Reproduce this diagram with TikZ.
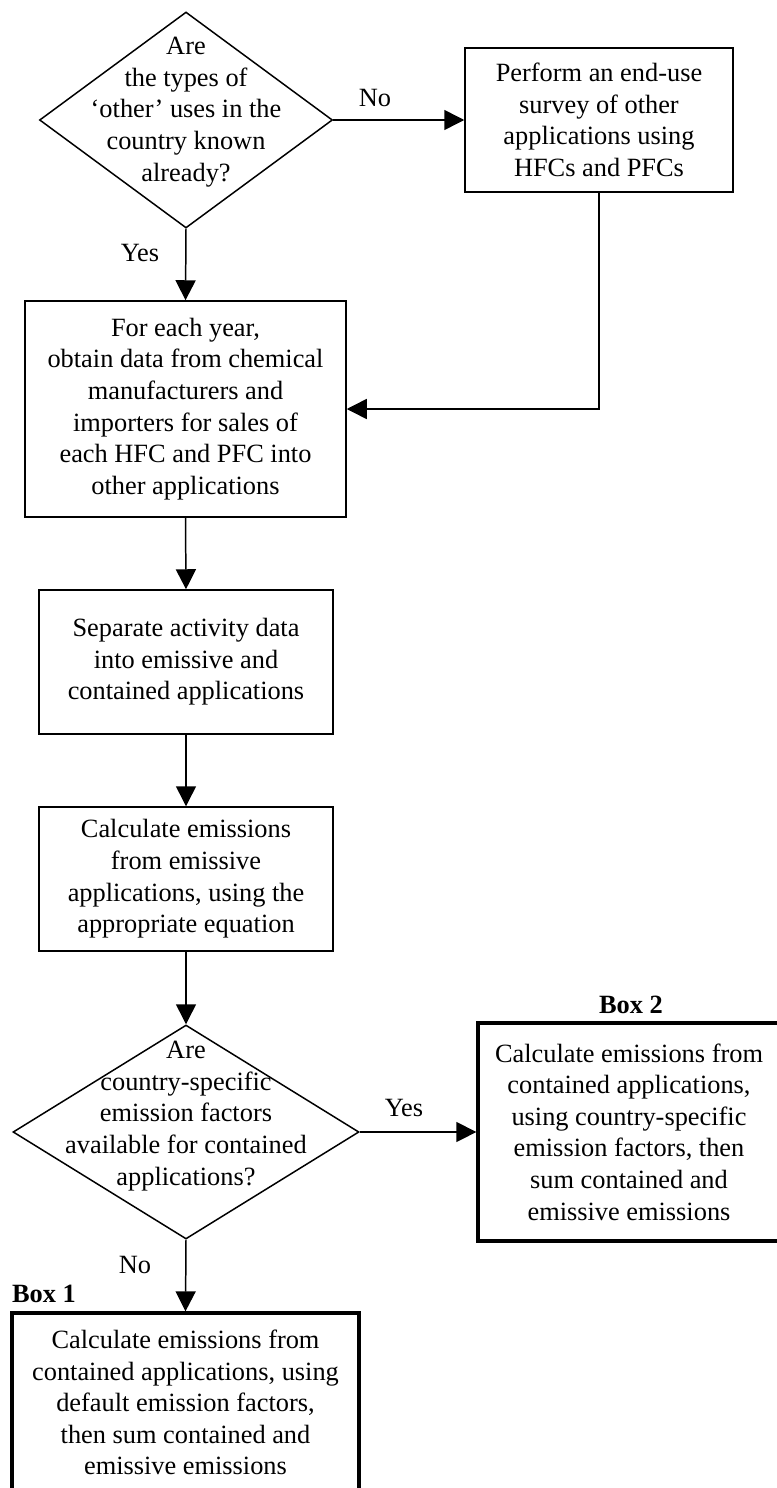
\documentclass[tikz,border=0pt]{standalone}
\usepackage{fontspec}
\setmainfont{Liberation Serif}
\usetikzlibrary{shapes.geometric,arrows.meta}

\begin{document}
\begin{tikzpicture}[
    every node/.style={font=\fontsize{15}{18}\selectfont},
    stepbox/.style={draw, line width=0.85pt, align=center, inner sep=0pt},
    boldbox/.style={stepbox, line width=1.9pt},
    decision/.style={draw, diamond, line width=0.85pt, inner sep=0pt},
    boxlabel/.style={font=\fontsize{15}{18}\selectfont\bfseries},
    arr/.style={-{Triangle[length=0.4cm,width=0.4cm]}, line width=0.85pt}
]
\useasboundingbox (0,0) rectangle (15.52,-29.76);

\node[decision, minimum width=5.86cm, minimum height=4.32cm] (known) at (3.72,-2.40) {};
\node[align=center] (knowntxt) at (3.72,-2.24) {Are\\the types of\\`other' uses in the\\country known\\already?};
\node[stepbox, minimum width=5.36cm, minimum height=2.88cm] (survey) at (11.98,-2.40)
    {Perform an end-use\\survey of other\\applications using\\HFCs and PFCs};
\node[stepbox, minimum width=6.42cm, minimum height=4.32cm] (sales) at (3.71,-8.18)
    {For each year,\\obtain data from chemical\\manufacturers and\\importers for sales of\\each HFC and PFC into\\other applications};
\node[stepbox, minimum width=5.88cm, minimum height=2.88cm] (separate) at (3.72,-13.24)
    {Separate activity data\\into emissive and\\contained applications};
\node[stepbox, minimum width=5.88cm, minimum height=2.88cm] (emissive) at (3.72,-17.58)
    {Calculate emissions\\from emissive\\applications, using the\\appropriate equation};
\node[decision, minimum width=6.92cm, minimum height=4.28cm] (factors) at (3.72,-22.64) {};
\node[align=center] (factorstxt) at (3.72,-22.32) {Are\\country-specific\\emission factors\\available for contained\\applications?};
\node[boldbox, minimum width=6.04cm, minimum height=4.36cm] (boxtwo) at (12.58,-22.64)
    {Calculate emissions from\\contained applications,\\using country-specific\\emission factors, then\\sum contained and\\emissive emissions};
\node[boldbox, minimum width=6.94cm, minimum height=3.58cm] (boxone) at (3.71,-28.05)
    {Calculate emissions from\\contained applications, using\\default emission factors,\\then sum contained and\\emissive emissions};

\node (no1) at (7.50,-1.96) {No};
\node (yes1) at (2.80,-5.06) {Yes};
\node (yes2) at (8.08,-22.16) {Yes};
\node (no2) at (2.70,-25.30) {No};
\node[boxlabel] (lbltwo) at (12.62,-20.10) {Box 2};
\node[boxlabel] (lblone) at (0.88,-25.88) {Box 1};

\draw[arr] (known.east) -- (survey.west);
\draw[arr] (known.south) -- (sales.north);
\draw[arr] (survey.south) |- (sales.east);
\draw[arr] (sales.south) -- (separate.north);
\draw[arr] (separate.south) -- (emissive.north);
\draw[arr] (emissive.south) -- (factors.north);
\draw[arr] (factors.east) -- (boxtwo.west);
\draw[arr] (factors.south) -- (boxone.north);
\end{tikzpicture}
\end{document}
